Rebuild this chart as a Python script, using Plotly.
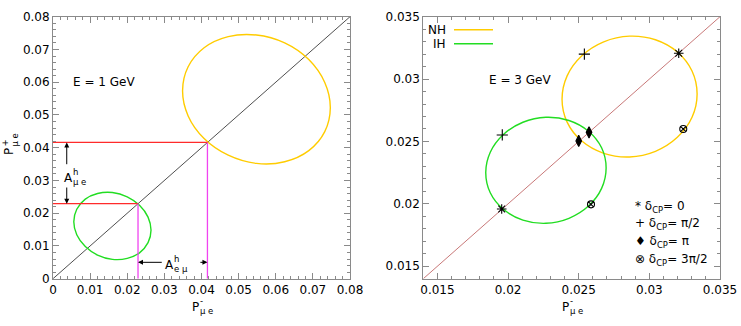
import plotly.graph_objects as go

# ---------------- data ----------------
# E = 1 GeV : CP trajectories (P-_mue, P+_mue)
nh1_x = [0.0747, 0.0732, 0.0689, 0.0624, 0.0548, 0.0472, 0.0407, 0.0364,
         0.0349, 0.0364, 0.0407, 0.0472, 0.0548, 0.0624, 0.0689, 0.0732, 0.0747]
nh1_y = [0.0522, 0.0449, 0.0391, 0.0357, 0.0352, 0.0377, 0.0428, 0.0497,
         0.0574, 0.0647, 0.0705, 0.0739, 0.0744, 0.0720, 0.0669, 0.0599, 0.0522]
ih1_x = [0.0264, 0.0256, 0.0233, 0.0200, 0.0160, 0.0120, 0.0087, 0.0064,
         0.0056, 0.0064, 0.0087, 0.0120, 0.0160, 0.0200, 0.0233, 0.0256, 0.0264]
ih1_y = [0.0148, 0.0110, 0.0079, 0.0062, 0.0059, 0.0072, 0.0098, 0.0134,
         0.0174, 0.0212, 0.0243, 0.0260, 0.0263, 0.0250, 0.0224, 0.0188, 0.0148]

# E = 3 GeV : CP trajectories
nh3_x = [0.03338, 0.03302, 0.03198, 0.03043, 0.02860, 0.02677, 0.02522, 0.02418,
         0.02382, 0.02418, 0.02522, 0.02677, 0.02860, 0.03043, 0.03198, 0.03302, 0.03338]
nh3_y = [0.02881, 0.02694, 0.02533, 0.02421, 0.02376, 0.02405, 0.02503, 0.02655,
         0.02839, 0.03026, 0.03187, 0.03299, 0.03344, 0.03315, 0.03217, 0.03065, 0.02881]
ih3_x = [0.02694, 0.02662, 0.02569, 0.02431, 0.02268, 0.02105, 0.01967, 0.01874,
         0.01842, 0.01874, 0.01967, 0.02105, 0.02268, 0.02431, 0.02569, 0.02662, 0.02694]
ih3_y = [0.02288, 0.02124, 0.01982, 0.01884, 0.01844, 0.01870, 0.01956, 0.02089,
         0.02250, 0.02414, 0.02556, 0.02654, 0.02694, 0.02668, 0.02582, 0.02449, 0.02288]

# delta_CP = 0, pi/2, pi, 3pi/2 points at E = 3 GeV
delta_labels = ["0", "π/2", "π", "3π/2"]
nh3_mark_x = [0.03208, 0.02540, 0.02500, 0.03240]
nh3_mark_y = [0.03207, 0.03200, 0.02504, 0.02600]
ih3_mark_x = [0.01955, 0.01959, 0.02573, 0.02587]
ih3_mark_y = [0.01959, 0.02552, 0.02573, 0.01996]

# E = 1 GeV : points where the trajectories cross the diagonal
p_nh1 = 0.0416
p_ih1 = 0.0229

diag1 = [0.0, 0.08]
diag3 = [0.014, 0.035]

x_ticks1 = [0, 0.01, 0.02, 0.03, 0.04, 0.05, 0.06, 0.07, 0.08]
x_ticks3 = [0.015, 0.02, 0.025, 0.03, 0.035]

# ---------------- styling ----------------
YEL = "#ffcc00"
GRN = "#22dd22"
RED = "#ff2b2b"
MAG = "#f044f0"
FRAME = "#8a8a8a"
FONT = "DejaVu Sans"
TXT = "#000000"
W, H = 741, 326


def px(xp):
    return xp / W


def py(yp):
    return 1 - yp / H


fig = go.Figure()

# left panel
fig.add_trace(go.Scatter(x=diag1, y=diag1, mode="lines", line=dict(color="#222222", width=0.8),
                         xaxis="x", yaxis="y"))
fig.add_trace(go.Scatter(x=nh1_x, y=nh1_y, mode="lines", line=dict(color=YEL, width=1.4, shape="spline"),
                         xaxis="x", yaxis="y"))
fig.add_trace(go.Scatter(x=ih1_x, y=ih1_y, mode="lines", line=dict(color=GRN, width=1.4, shape="spline"),
                         xaxis="x", yaxis="y"))
for p in (p_nh1, p_ih1):
    fig.add_trace(go.Scatter(x=[0, p], y=[p, p], mode="lines", line=dict(color=RED, width=1.3),
                             xaxis="x", yaxis="y"))
    fig.add_trace(go.Scatter(x=[p, p], y=[0, p], mode="lines", line=dict(color=MAG, width=1.3),
                             xaxis="x", yaxis="y"))

# right panel
fig.add_trace(go.Scatter(x=diag3, y=diag3, mode="lines", line=dict(color="#c87878", width=1),
                         xaxis="x2", yaxis="y2"))
fig.add_trace(go.Scatter(x=nh3_x, y=nh3_y, mode="lines", line=dict(color=YEL, width=1.4, shape="spline"),
                         xaxis="x2", yaxis="y2"))
fig.add_trace(go.Scatter(x=ih3_x, y=ih3_y, mode="lines", line=dict(color=GRN, width=1.4, shape="spline"),
                         xaxis="x2", yaxis="y2"))
symbols = [("asterisk-open", 8), ("cross-thin-open", 8), ("diamond-tall", 8), ("circle-x-open", 7)]
for i, (sym, size) in enumerate(symbols):
    fig.add_trace(go.Scatter(x=[nh3_mark_x[i], ih3_mark_x[i]], y=[nh3_mark_y[i], ih3_mark_y[i]],
                             mode="markers",
                             marker=dict(symbol=sym, size=size, color="black",
                                         line=dict(color="black", width=1.1)),
                             xaxis="x2", yaxis="y2"))

axis_common = dict(showline=True, linecolor=FRAME, linewidth=1, mirror="ticks", ticks="inside",
                   ticklen=6, tickcolor=FRAME, tickwidth=1, showgrid=False, zeroline=False,
                   automargin=False,
                   tickfont=dict(family=FONT, size=12, color=TXT))

fig.update_layout(
    width=W, height=H, margin=dict(l=0, r=0, t=0, b=0, autoexpand=False),
    plot_bgcolor="white", paper_bgcolor="white", showlegend=False,
    font=dict(family=FONT, size=12, color=TXT),
    xaxis=dict(domain=[px(53), px(350)], range=[0, 0.08], anchor="y", tickvals=x_ticks1,
               ticktext=[f"{v:g}" for v in x_ticks1],
               minor=dict(ticks="inside", ticklen=3, tickcolor=FRAME, dtick=0.002), **axis_common),
    yaxis=dict(domain=[py(278.7), py(16.7)], range=[0, 0.08], anchor="x", tickvals=x_ticks1,
               ticktext=[f"{v:g}" for v in x_ticks1],
               minor=dict(ticks="inside", ticklen=3, tickcolor=FRAME, dtick=0.002), **axis_common),
    xaxis2=dict(domain=[px(423.3), px(720)], range=[0.014, 0.035], anchor="y2", tickvals=x_ticks3,
                ticktext=[f"{v:g}" for v in x_ticks3],
                minor=dict(ticks="inside", ticklen=3, tickcolor=FRAME, tick0=0.014, dtick=0.001), **axis_common),
    yaxis2=dict(domain=[py(278.7), py(16.7)], range=[0.014, 0.035], anchor="x2", tickvals=x_ticks3,
                ticktext=[f"{v:g}" for v in x_ticks3],
                minor=dict(ticks="inside", ticklen=3, tickcolor=FRAME, tick0=0.014, dtick=0.001), **axis_common),
)

ann = []


def text(x, y, t, xref="paper", yref="paper", xanchor="left", yanchor="middle", size=12,
         xshift=0, yshift=0, angle=0):
    ann.append(dict(x=x, y=y, xref=xref, yref=yref, text=t, showarrow=False, xanchor=xanchor,
                    yanchor=yanchor, xshift=xshift, yshift=yshift, textangle=angle,
                    borderpad=0, font=dict(family=FONT, size=size, color=TXT)))


def stacked(x, y, base, sup, sub, xref, yref, wbase):
    text(x, y, base, xref, yref)
    text(x, y, sup, xref, yref, size=8.5, xshift=wbase, yanchor="bottom", yshift=0)
    text(x, y, sub, xref, yref, size=8.5, xshift=wbase, yanchor="top", yshift=2)


def arrow(x, y, ax, ay):
    ann.append(dict(x=x, y=y, ax=ax, ay=ay, xref="x", yref="y", axref="x", ayref="y", text="",
                    showarrow=True, arrowhead=2, arrowsize=1, arrowwidth=1, arrowcolor="black"))


# left panel texts
text(0.005, 0.060, "E = 1 GeV", "x", "y")
arrow(0.0037, p_nh1, 0.0037, 0.0345)
arrow(0.0037, p_ih1, 0.0037, 0.0283)
stacked(0.0028, 0.0306, "A", "h", "μ e", "x", "y", 9)
arrow(p_ih1, 0.0050, 0.0297, 0.0050)
arrow(p_nh1, 0.0050, 0.0393, 0.0050)
stacked(0.0298, 0.0043, "A", "h", "e μ", "x", "y", 9)

# axis titles
for cx in (190.7, 560.7):
    stacked(px(cx), py(307), "P", "-", "μ e", "paper", "paper", 8)
text(px(9), py(152), "P", xanchor="center", angle=-90)
text(px(9), py(152), "+", size=8.5, xanchor="right", yanchor="bottom", xshift=1, yshift=4, angle=-90)
text(px(9), py(152), "μ e", size=8.5, xanchor="left", yanchor="bottom", xshift=-1, yshift=4, angle=-90)

# right panel texts
text(0.0186, 0.02993, "E = 3 GeV", "x2", "y2")
text(px(447), py(30), "NH", xanchor="right")
text(px(447), py(44), "IH", xanchor="right")
fig.add_shape(type="line", xref="paper", yref="paper", x0=px(454), x1=px(493), y0=py(29.7), y1=py(29.7),
              line=dict(color=YEL, width=1.5))
fig.add_shape(type="line", xref="paper", yref="paper", x0=px(454), x1=px(493), y0=py(43.7), y1=py(43.7),
              line=dict(color=GRN, width=1.5))
key_syms = ["*", "+", "♦", "⊗"]
key_y = [206.7, 224, 241.7, 260]
for s, lab, yy in zip(key_syms, delta_labels, key_y):
    text(px(634), py(yy), f"{s} δ<sub>CP</sub>= {lab}")

fig.update_layout(annotations=ann)
fig.write_html("out.html", config={"displayModeBar": False},
               post_script="document.body.style.margin='0';document.body.style.overflow='hidden';")
